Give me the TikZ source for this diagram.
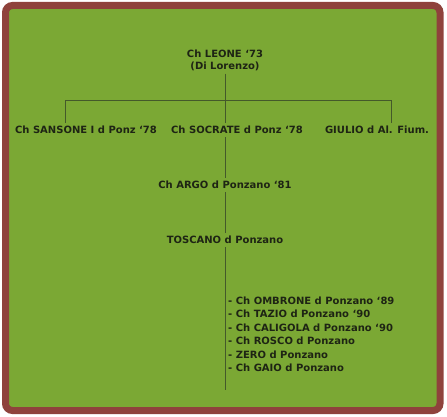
\documentclass[tikz,border=0pt]{standalone}
\usepackage{fontspec}
\setmainfont{DejaVu Sans}
\usetikzlibrary{positioning, calc}
\definecolor{pedgreen}{HTML}{7BA834}
\definecolor{pedframe}{HTML}{8F423C}
\definecolor{pedline}{HTML}{44592A}
\definecolor{pedtext}{HTML}{1E2414}
\tikzset{
  dog/.style={inner xsep=1pt, inner ysep=3pt, text=pedtext, font=\fontsize{10}{12}\selectfont\bfseries},
  son/.style={dog, inner ysep=1pt, anchor=west},
  link/.style={draw=pedline, line width=0.9pt},
}

\begin{document}
\begin{tikzpicture}[x=1pt, y=-1pt, node distance=3.4pt]
    \useasboundingbox (0,0) rectangle (447,417);
    \draw[pedframe, fill=pedgreen, line width=7pt, rounded corners=7pt] (5.5,5.5) rectangle (440,410.5);
    % founder and first generation
    \node[dog, align=center] (leone) at (225,60) {Ch LEONE `73\\(Di Lorenzo)};
    \node[dog] (sansone) at (86,130) {Ch SANSONE I d Ponz `78};
    \node[dog] (socrate) at (237,130) {Ch SOCRATE d Ponz `78};
    \node[dog] (giulio) at (377,130) {GIULIO d Al. Fium.};
    \coordinate (barl) at (65,100);
    \coordinate (barr) at (391,100);
    \draw[link] (leone.south) -- (leone.south |- socrate.north);
    \draw[link] (barl |- sansone.north) -- (barl) -- (barr) -- (barr |- giulio.north);
    % line down
    \node[dog] (argo) at (225,185) {Ch ARGO d Ponzano `81};
    \node[dog] (toscano) at (225,240) {TOSCANO d Ponzano};
    \draw[link] (leone.south |- socrate.south) -- (argo.north);
    \draw[link] (argo.south) -- (toscano.north);
    \coordinate (end) at (225,390);
    \draw[link] (toscano.south) -- (end);
    % offspring of toscano
    \node[son] (ombrone) at (227,300.5) {- Ch OMBRONE d Ponzano `89};
    \node[son, below=of ombrone.south west, anchor=north west] (tazio) {- Ch TAZIO d Ponzano `90};
    \node[son, below=of tazio.south west, anchor=north west] (caligola) {- Ch CALIGOLA d Ponzano `90};
    \node[son, below=of caligola.south west, anchor=north west] (rosco) {- Ch ROSCO d Ponzano};
    \node[son, below=of rosco.south west, anchor=north west] (zero) {- ZERO d Ponzano};
    \node[son, below=of zero.south west, anchor=north west] (gaio) {- Ch GAIO d Ponzano};
\end{tikzpicture}
\end{document}
